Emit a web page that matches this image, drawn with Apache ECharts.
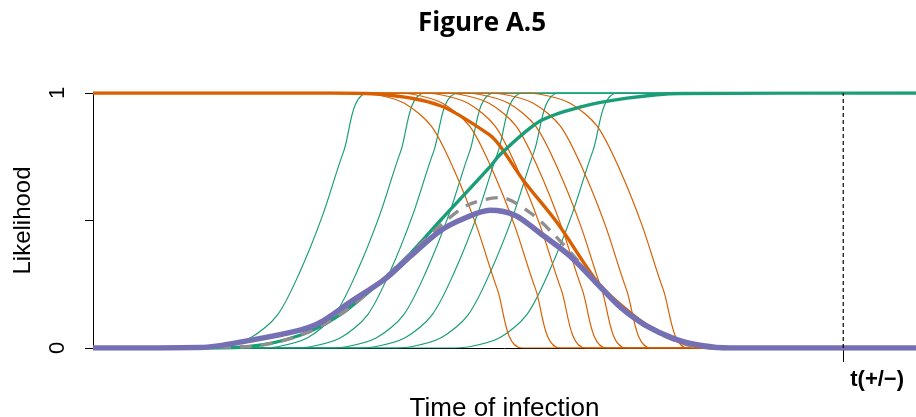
<!DOCTYPE html>
<html>
<head>
<meta charset="utf-8">
<title>Figure A.5</title>
<script src="https://cdn.jsdelivr.net/npm/echarts@6/dist/echarts.min.js"></script>
<style>
  html, body { margin: 0; padding: 0; background: #fff; }
  #chart { width: 916px; height: 417px; }
</style>
</head>
<body>
<div id="chart"></div>
<script>
// time axis: 0 at the left edge of the plot, t(+/-) at 100
const xMin = 0
const xMax = 109.7
const tMark = 100
const tLabel = 't(+/\u2212)'

// thin curves all share one shape:
// distance back from the steep end -> height reached
const profileGap = [0, 3.3, 6.1, 9.1, 12.1, 15.7, 19.7, 22.7]
const profileRise = [1, 0.77, 0.52, 0.30, 0.13, 0.04, 0.005, 0]

// where each green curve reaches 1 and each orange curve reaches 0
const greenEnds = [36.7, 44.3, 48.7, 53.5, 57.3, 62.1, 69.9]
const orangeEnds = [57.2, 62.3, 65.7, 68.5, 71.1, 74.4, 79.3]

// thick curves
const greenMeanX = [0, 14.3, 20.9, 27.6, 32.9, 38.3, 42.3, 46.3, 52.9, 54.3, 59.6, 64.9, 71.2, 78.3, 109.7]
const greenMeanY = [0, 0, 0.006, 0.05, 0.13, 0.26, 0.37, 0.50, 0.71, 0.76, 0.89, 0.945, 0.98, 0.998, 1]
const orangeMeanX = [0, 31.6, 38.3, 46.3, 52.9, 54.3, 57.3, 61.9, 67.2, 70.3, 74.3, 79.6, 83.6, 109.7]
const orangeMeanY = [1, 1, 0.995, 0.95, 0.835, 0.79, 0.66, 0.49, 0.26, 0.17, 0.08, 0.01, 0, 0]
const purpleX = [0, 14.3, 20.9, 27.6, 30.3, 34.3, 38.9, 42.3, 46.3, 49.6, 52.9, 56.3, 59.6, 63.6, 67.6, 70.3, 73.6, 77.6, 81.1, 84.9, 109.7]
const purpleY = [0, 0.002, 0.03, 0.07, 0.10, 0.18, 0.27, 0.36, 0.46, 0.51, 0.54, 0.52, 0.45, 0.36, 0.24, 0.16, 0.09, 0.035, 0.01, 0, 0]
const grayX = [0, 20.9, 27.6, 32.9, 38.3, 42.7, 46.3, 49.9, 54.3, 58.3, 61.6, 64.7, 67.6, 70.3, 74.3, 79.6, 84.9, 109.7]
const grayY = [0, 0.006, 0.05, 0.13, 0.26, 0.38, 0.48, 0.56, 0.59, 0.53, 0.44, 0.34, 0.24, 0.16, 0.075, 0.01, 0, 0]

const GREEN = '#1b9e77'
const ORANGE = '#d95f02'
const PURPLE = '#7570b3'
const GRAY = '#8f8f8f'

function zip (xs, ys) {
  return xs.map(function (x, i) { return [x, ys[i]] })
}

function greenCurve (end) {
  let pts = [[xMin, 0]]
  for (let i = profileGap.length - 1; i >= 0; i--) {
    pts.push([end - profileGap[i], profileRise[i]])
  }
  pts.push([xMax, 1])
  return pts
}

function orangeCurve (end) {
  let pts = [[xMin, 1]]
  for (let i = profileGap.length - 1; i >= 0; i--) {
    pts.push([end - profileGap[i], 1 - profileRise[i]])
  }
  pts.push([xMax, 0])
  return pts
}

function lineSeries (data, color, width, extra) {
  return Object.assign({
    type: 'line',
    data: data,
    showSymbol: false,
    symbol: 'none',
    smooth: 0.3,
    silent: true,
    lineStyle: { color: color, width: width }
  }, extra || {})
}

let series = []
greenEnds.forEach(function (e) { series.push(lineSeries(greenCurve(e), GREEN, 1.2)) })
orangeEnds.forEach(function (e) { series.push(lineSeries(orangeCurve(e), ORANGE, 1.2)) })
series.push(lineSeries(zip(orangeMeanX, orangeMeanY), ORANGE, 3.4))
series.push(lineSeries(zip(greenMeanX, greenMeanY), GREEN, 3.4))
series.push(lineSeries(zip(grayX, grayY), GRAY, 3.4, {
  lineStyle: { color: GRAY, width: 3.4, type: [12, 9] }
}))
series.push(lineSeries(zip(purpleX, purpleY), PURPLE, 5.5))
series.push(lineSeries([[tMark, 0], [tMark, 1]], '#000', 1.2, {
  smooth: false,
  lineStyle: { color: '#000', width: 1.2, type: [4, 3] }
}))

let myChart = echarts.init(document.getElementById('chart'), null, { renderer: 'canvas' })
myChart.setOption({
  animation: false,
  backgroundColor: '#fff',
  title: {
    text: 'Figure A.5',
    left: 413,
    top: 6,
    textStyle: {
      fontFamily: 'Open Sans',
      fontWeight: 'bold',
      fontSize: 26,
      color: '#000'
    }
  },
  grid: { left: 93, right: 0, top: 93, bottom: 69, outerBoundsMode: 'none', containLabel: false },
  xAxis: {
    type: 'value',
    min: xMin,
    max: xMax,
    name: 'Time of infection',
    nameLocation: 'middle',
    nameGap: 37,
    nameTextStyle: { fontFamily: 'Liberation Sans', fontSize: 26, color: '#000' },
    axisLine: { show: true, lineStyle: { color: '#000', width: 1 } },
    axisTick: { show: true, length: 14, customValues: [tMark], lineStyle: { color: '#000' } },
    axisLabel: {
      customValues: [tMark],
      formatter: function () { return tLabel },
      margin: 21,
      align: 'left',
      padding: [0, 0, 0, 7],
      fontFamily: 'Liberation Sans',
      fontWeight: 'bold',
      fontSize: 22,
      color: '#000'
    },
    splitLine: { show: false }
  },
  yAxis: {
    type: 'value',
    min: 0,
    max: 1,
    interval: 0.5,
    name: 'Likelihood',
    nameLocation: 'middle',
    nameGap: 58,
    nameTextStyle: { fontFamily: 'Liberation Sans', fontSize: 24, color: '#000' },
    axisLine: { show: true, lineStyle: { color: '#000', width: 1 } },
    axisTick: { show: true, length: 8, lineStyle: { color: '#000' } },
    axisLabel: {
      rotate: 90,
      margin: 24,
      fontFamily: 'Liberation Sans',
      fontSize: 22,
      color: '#000',
      formatter: function (v) { return v === 0 || v === 1 ? String(v) : '' }
    },
    splitLine: { show: false }
  },
  series: series
})
window.addEventListener('resize', function () {
  myChart.resize()
})
</script>
</body>
</html>
